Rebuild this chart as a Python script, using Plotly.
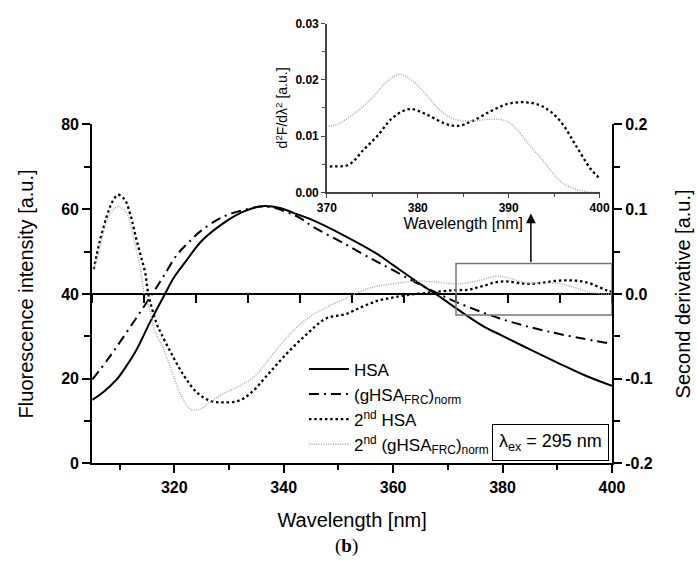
import plotly.graph_objects as go

W, H = 697, 567

# ---------------- data ----------------
# Fluorescence spectra (left axis, x = wavelength nm)
wl_hsa = [305, 307, 309.4, 311, 313, 315.6, 318.3, 320, 322, 325, 329, 332.4, 336, 339.5, 342,
          345.3, 351.3, 357, 360, 365, 368, 370, 373, 376.6, 380, 385, 390, 395, 400]
hsa = [15.0, 16.8, 19.7, 22.5, 26.6, 33.4, 40.0, 44.0, 47.5, 52.5, 56.7, 59.3, 60.7, 60.2, 59.0,
       57.4, 53.6, 49.5, 46.8, 42.3, 39.8, 38.0, 35.3, 32.3, 30.1, 26.9, 23.8, 20.8, 18.3]

wl_ghsa = [305, 307.7, 310, 313, 316, 318, 320.6, 322.5, 324.7, 328.9, 333.6, 336, 338, 340.6,
           343, 345.3, 351.3, 356.6, 360, 364, 367.2, 371.9, 379.5, 388.4, 400]
ghsa = [19.8, 24.3, 28.5, 34.2, 40.0, 44.1, 49.4, 52.0, 54.7, 58.2, 60.1, 60.6, 60.4, 59.3,
        57.9, 55.9, 51.7, 47.9, 45.6, 42.8, 40.7, 37.9, 34.2, 31.1, 28.2]

# Second derivative spectra (right axis)
wl_d2_hsa = [300.3, 301.5, 303.1, 304, 305, 306, 306.5, 307.5, 308.4, 309.3, 310.2, 310.8, 312.4,
             313.3, 315.2, 317.7, 320.1, 322.6, 325, 328.2, 330.7, 333.8, 337.5, 341.2, 345,
             348.7, 352, 355, 358, 361, 364, 367, 370, 372.4, 374, 375.6, 377.2, 379.1, 381,
             383, 384.4, 385.9, 388, 389.9, 391.9, 393.8, 395.6, 397.4, 399, 400]
d2_hsa = [0.029, 0.063, 0.097, 0.110, 0.117, 0.113, 0.109, 0.090, 0.067, 0.046, 0.025, 0.0,
          -0.035, -0.047, -0.070, -0.097, -0.116, -0.126, -0.128, -0.126, -0.116, -0.095, -0.070,
          -0.048, -0.029, -0.024, -0.015, -0.008, -0.004, -0.001, 0.001, 0.003, 0.0045, 0.0049,
          0.0075, 0.0101, 0.0132, 0.0148, 0.0138, 0.0122, 0.0118, 0.0126, 0.0144, 0.0157, 0.0160,
          0.0152, 0.0128, 0.0083, 0.0042, 0.0025]

wl_d2_ghsa = [300.3, 300.9, 302.8, 304, 305, 306, 306.8, 307.6, 308.4, 309.2, 309.9, 310.8, 311.5,
              312.1, 313.3, 315.2, 317.1, 318.9, 320.1, 321.3, 322.6, 325.1, 328.2, 331.3, 334.4,
              337.5, 341.2, 345, 348.7, 352, 355, 358, 362, 366, 370, 371, 373, 375, 376.5, 378,
              379.5, 381, 382.5, 384, 386, 388, 389.5, 390.5, 392.2, 394, 395.8, 397.5, 399, 400]
d2_ghsa = [0.030, 0.040, 0.086, 0.099, 0.103, 0.100, 0.093, 0.076, 0.055, 0.032, 0.004, -0.013,
           -0.030, -0.045, -0.059, -0.089, -0.120, -0.136, -0.137, -0.134, -0.128, -0.118, -0.109,
           -0.097, -0.074, -0.051, -0.030, -0.016, -0.0057, 0.004, 0.0095, 0.012, 0.015, 0.014,
           0.0118, 0.0120, 0.0140, 0.0168, 0.0195, 0.0210, 0.0197, 0.0172, 0.0145, 0.0130, 0.0127,
           0.0130, 0.0128, 0.0118, 0.0086, 0.0052, 0.0018, 0.0005, 0.0, 0.0]

# axis settings
main_x_range = [305, 400]
main_x_ticks = [320, 340, 360, 380, 400]
left_y_range = [0, 80]
left_y_ticks = [0, 20, 40, 60, 80]
right_y_range = [-0.2, 0.2]
right_y_ticks = [-0.2, -0.1, 0.0, 0.1, 0.2]
right_y_ticklabels = ["-0.2", "-0.1", "0.0", "0.1", "0.2"]
deriv_x_range = [300, 400]
inset_x_range = [370, 400]
inset_x_ticks = [370, 380, 390, 400]
inset_y_range = [0, 0.03]
inset_y_ticks = [0.00, 0.01, 0.02, 0.03]
zoom_box_y = [-0.025, 0.036]
arrow_tip_y = 0.095
arrow_x = 384.4

names = ["HSA", "(gHSA<sub>FRC</sub>)<sub>norm</sub>", "2<sup>nd</sup> HSA",
         "2<sup>nd</sup> (gHSA<sub>FRC</sub>)<sub>norm</sub>"]

FONT = "Liberation Sans, Arial, sans-serif"
px = lambda v: v / W
py = lambda v: 1 - v / H

main_xd = [px(85), px(622.5)]
main_yd = [py(469.5), py(120)]
ins_xd = [px(327.7), px(609.7)]
ins_yd = [py(190), py(16)]

fig = go.Figure()

styles = [dict(color="black", width=2, dash="solid"),
          dict(color="black", width=2, dash="10px,5px,2px,5px"),
          dict(color="black", width=2.3, dash="2.5px,2.8px"),
          dict(color="#a9a9a9", width=1.5, dash="1px,1.4px")]

fig.add_trace(go.Scatter(x=wl_hsa, y=hsa, mode="lines", name=names[0], line=styles[0],
                         line_shape="spline", xaxis="x", yaxis="y"))
fig.add_trace(go.Scatter(x=wl_ghsa, y=ghsa, mode="lines", name=names[1], line=styles[1],
                         line_shape="spline", xaxis="x", yaxis="y"))
fig.add_trace(go.Scatter(x=wl_d2_hsa, y=d2_hsa, mode="lines", name=names[2], line=styles[2],
                         line_shape="spline", xaxis="x2", yaxis="y2"))
fig.add_trace(go.Scatter(x=wl_d2_ghsa, y=d2_ghsa, mode="lines", name=names[3], line=styles[3],
                         line_shape="spline", xaxis="x2", yaxis="y2"))
# inset
fig.add_trace(go.Scatter(x=wl_d2_hsa, y=d2_hsa, mode="lines", showlegend=False, line=styles[2],
                         line_shape="spline", xaxis="x3", yaxis="y3"))
fig.add_trace(go.Scatter(x=wl_d2_ghsa, y=d2_ghsa, mode="lines", showlegend=False, line=styles[3],
                         line_shape="spline", xaxis="x3", yaxis="y3"))

tickfont = dict(family=FONT, size=16, color="black", weight="bold")
titlefont = dict(family=FONT, size=20, color="black")
minor = lambda d, l=5: dict(dtick=d, ticks="outside", ticklen=l, tickwidth=1.5, tickcolor="black")

fig.update_layout(
    width=W, height=H, margin=dict(l=0, r=0, t=0, b=0),
    paper_bgcolor="white", plot_bgcolor="rgba(0,0,0,0)",
    xaxis=dict(domain=main_xd, range=main_x_range, tickvals=main_x_ticks, anchor="y",
               showline=True, linecolor="black", linewidth=2, mirror=False,
               ticks="outside", ticklen=8, tickwidth=1.5, tickcolor="black",
               minor=minor(10), showgrid=False, zeroline=False, tickfont=tickfont,
               title=dict(text="Wavelength [nm]", font=titlefont, standoff=18)),
    yaxis=dict(domain=main_yd, range=left_y_range, tickvals=left_y_ticks, anchor="x",
               showline=True, linecolor="black", linewidth=2,
               ticks="outside", ticklen=8, tickwidth=1.5, tickcolor="black",
               minor=minor(10, 6), showgrid=False, zeroline=False, tickfont=tickfont,
               title=dict(text="Fluorescence intensity [a.u.]", font=titlefont, standoff=22)),
    xaxis2=dict(overlaying="x", range=deriv_x_range, anchor="free", position=py(295),
                dtick=10, tick0=300, ticks="outside", ticklen=8, tickwidth=1.5,
                tickcolor="black", showticklabels=False, showline=False, showgrid=False,
                zeroline=False),
    yaxis2=dict(overlaying="y", side="right", range=right_y_range, tickvals=right_y_ticks,
                ticktext=right_y_ticklabels, anchor="x",
                showline=True, linecolor="black", linewidth=2,
                ticks="outside", ticklen=8, tickwidth=1.5, tickcolor="black",
                minor=minor(0.05, 6), showgrid=False, zeroline=True, zerolinecolor="black",
                zerolinewidth=2.2, tickfont=tickfont,
                title=dict(text="Second derivative [a.u.]", font=titlefont, standoff=24)),
    xaxis3=dict(domain=ins_xd, range=inset_x_range, tickvals=inset_x_ticks, anchor="y3",
                showline=True, linecolor="#444", linewidth=1.5, ticks="outside", ticklen=4,
                tickcolor="#444", minor=dict(dtick=5, ticks="outside", ticklen=3, tickcolor="#444"),
                showgrid=False, zeroline=False,
                tickfont=dict(family=FONT, size=12, color="black", weight="bold"),
                title=dict(text="Wavelength [nm]", font=dict(family=FONT, size=16, color="black"),
                           standoff=2)),
    yaxis3=dict(domain=ins_yd, range=inset_y_range, tickvals=inset_y_ticks, tickformat=".2f",
                anchor="x3", showline=True, linecolor="#444", linewidth=1.5, ticks="outside",
                ticklen=4, tickcolor="#444",
                minor=dict(dtick=0.005, ticks="outside", ticklen=3, tickcolor="#444"),
                showgrid=False, zeroline=False,
                tickfont=dict(family=FONT, size=12, color="black", weight="bold"),
                title=dict(text="d<sup>2</sup>F/dλ<sup>2</sup> [a.u.]",
                           font=dict(family=FONT, size=14, color="black"), standoff=4)),
    legend=dict(x=px(304), y=py(354), xanchor="left", yanchor="top", bgcolor="rgba(0,0,0,0)",
                font=dict(family=FONT, size=17, color="black"), tracegroupgap=0,
                itemwidth=40),
    showlegend=True,
)

# zoom box and arrow
fig.add_shape(type="rect", xref="x2", yref="y2", x0=inset_x_range[0], x1=inset_x_range[1],
              y0=zoom_box_y[0], y1=zoom_box_y[1], line=dict(color="#777", width=1.5))
fig.add_annotation(x=arrow_x, y=arrow_tip_y, xref="x2", yref="y2", ax=arrow_x, ay=zoom_box_y[1],
                   axref="x2", ayref="y2", showarrow=True, arrowhead=2, arrowsize=1.3,
                   arrowwidth=1.5, arrowcolor="black", text="")

# excitation label box
fig.add_annotation(x=px(559), y=py(447.5), xref="paper", yref="paper", showarrow=False,
                   xanchor="center", yanchor="middle",
                   text="λ<sub>ex</sub> = 295 nm", font=dict(family=FONT, size=18, color="black"),
                   bordercolor="black", borderwidth=1, borderpad=6, bgcolor="white")
# panel label
fig.add_annotation(x=px(348), y=py(555), xref="paper", yref="paper", showarrow=False,
                   xanchor="center", yanchor="middle",
                   text="(<b>b</b>)", font=dict(family="Liberation Serif, serif", size=19,
                                                 color="black"))

fig.write_html("out.html")
